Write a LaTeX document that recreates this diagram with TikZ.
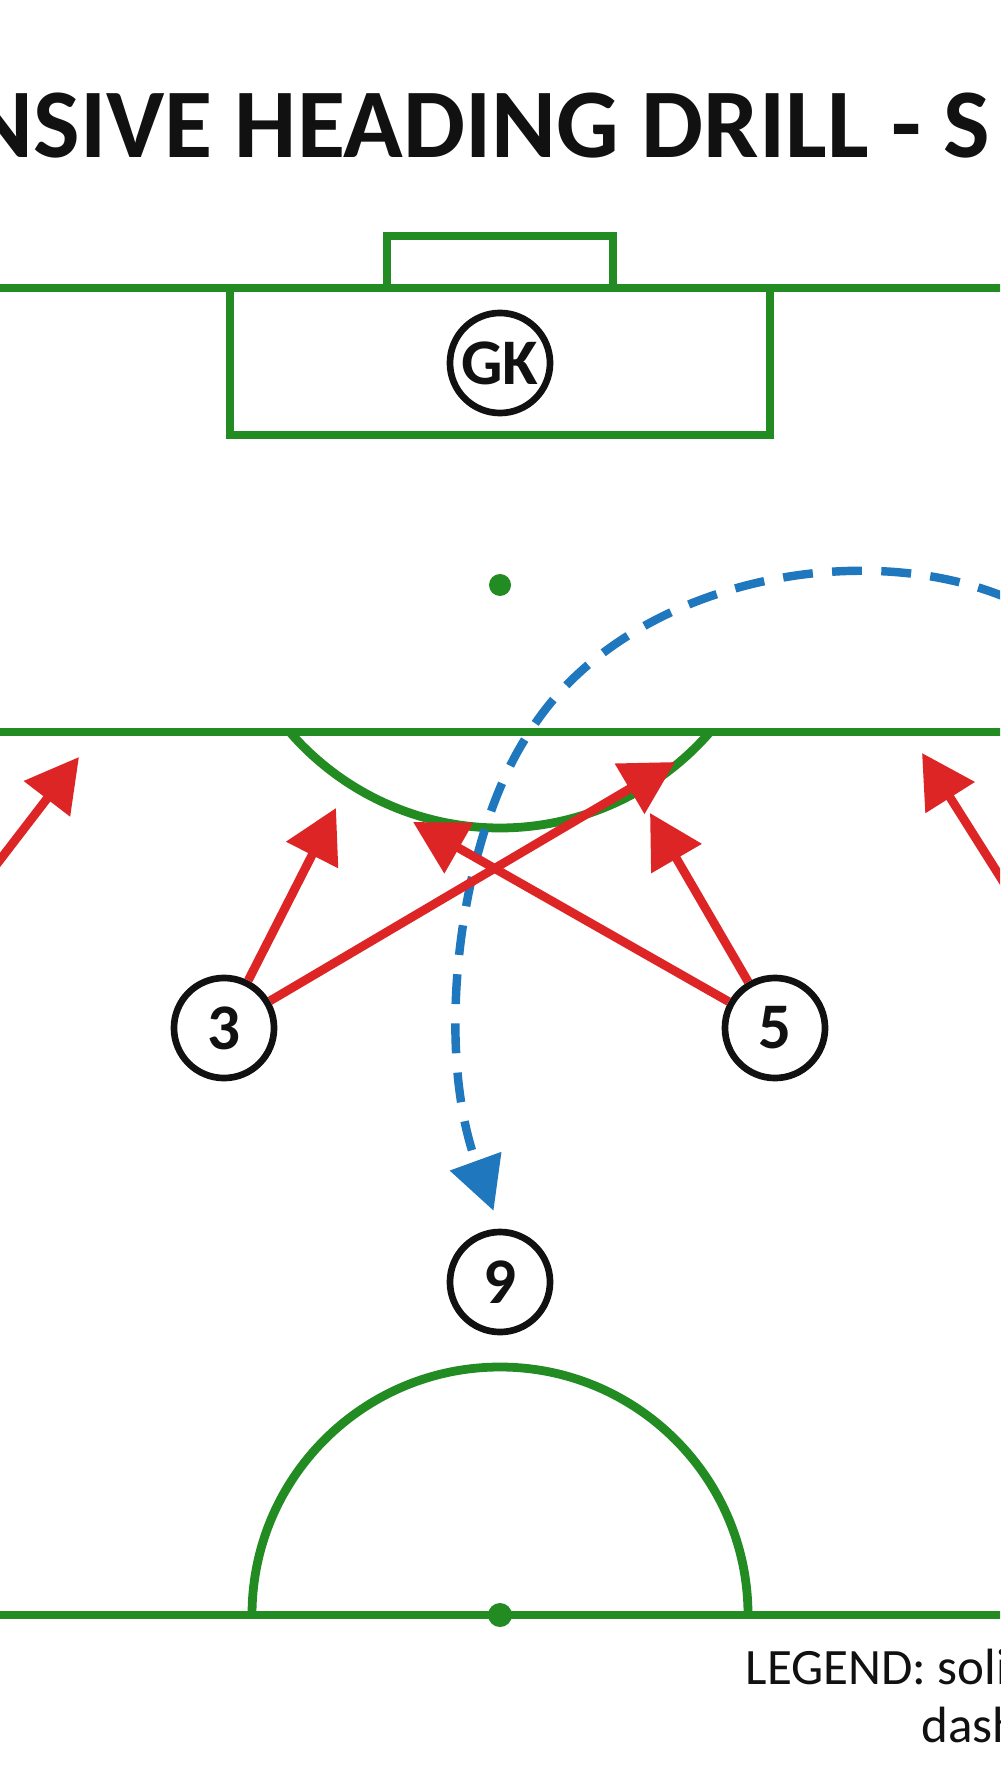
\documentclass[tikz,border=0pt]{standalone}
\usepackage{fontspec}
\setmainfont{Carlito}
\usetikzlibrary{arrows.meta}
\definecolor{pitch}{RGB}{34,139,34}
\definecolor{runred}{RGB}{222,37,37}
\definecolor{ballblue}{RGB}{31,119,190}
\definecolor{inkblack}{RGB}{17,17,17}
\begin{document}
\begin{tikzpicture}[x=0.01cm,y=-0.01cm,
  pline/.style={draw=pitch,line width=2.5pt},
  player/.style={circle,draw=inkblack,line width=1.9pt,fill=white,minimum size=1.0cm,inner sep=0pt,text=inkblack,font=\bfseries\fontsize{18.5}{21}\selectfont},
  run/.style={draw=runred,line width=2.5pt,-{Triangle[length=15pt,width=16pt]}},
  ball/.style={draw=ballblue,line width=2.4pt,dash pattern=on 8.5pt off 5.5pt,-{Triangle[length=15pt,width=15pt]}},
  label/.style={anchor=base west,inner sep=0pt,text=inkblack}
]
\fill[white] (0,0) rectangle (1000,1792);
\useasboundingbox (0,0) rectangle (1000,1792);
\clip (0,0) rectangle (1000,1792);

% title
\node[label,font=\bfseries\fontsize{28}{31}\selectfont] (title) at (-32,158) {NSIVE HEADING DRILL - S};

% pitch markings
\draw[pline] (-10,288) -- (1010,288);
\draw[pline] (387,288) |- (613,236) -- (613,288);
\draw[pline] (230,288) -- (230,435) -- (770,435) -- (770,288);
\fill[pitch] (500,585) circle[radius=11];
\draw[pline] (-10,732) -- (1010,732);
\draw[pline] (710,732) arc[start angle=40.9,end angle=139.1,radius=278];
\draw[pline] (-10,1615) -- (1010,1615);
\draw[pline] (252,1615) arc[start angle=180,end angle=360,radius=248];
\fill[pitch] (500,1615) circle[radius=12];

% players
\node[player] (gk) at (500,363) {GK};
\node[player] (n3) at (224,1028) {3};
\node[player] (n5) at (775,1028) {5};
\node[player] (n9) at (500,1282) {9};

% free ends
\coordinate (sL) at (-50,925);
\coordinate (tL) at (79,757);
\coordinate (sR) at (1040,940);
\coordinate (tR) at (922,753);
\coordinate (t3a) at (336,808);
\coordinate (t3b) at (675,762);
\coordinate (t5a) at (413,822);
\coordinate (t5b) at (650,813);
\coordinate (bS) at (1050,620);
\coordinate (bM) at (529,733);

% ball flight
\draw[ball,shorten >=5.4pt] (bS) .. controls (900,525) and (630,570) .. (bM)
  .. controls (462,833) and (432,1041) .. (n9.north);

% runs
\draw[run] (sL) -- (tL);
\draw[run] (sR) -- (tR);
\draw[run] (n3) -- (t3a);
\draw[run] (n3) -- (t3b);
\draw[run] (n5) -- (t5a);
\draw[run] (n5) -- (t5b);

% legend
\node[label,font=\fontsize{14.5}{17}\selectfont] (leg1) at (745,1684) {LEGEND: solid};
\node[label,font=\fontsize{14.5}{17}\selectfont] (leg2) at (921,1742) {dash};
\end{tikzpicture}
\end{document}
